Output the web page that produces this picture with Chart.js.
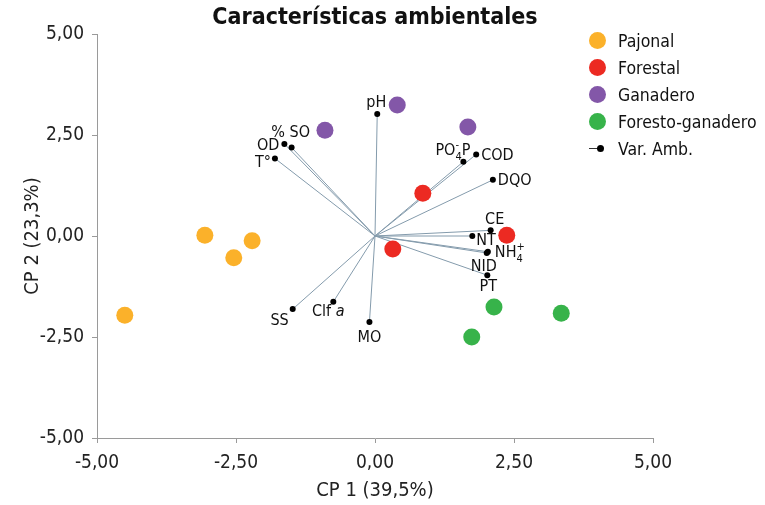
<!DOCTYPE html>
<html>
<head>
<meta charset="utf-8">
<script src="https://cdn.jsdelivr.net/npm/chart.js@4/dist/chart.umd.min.js"></script>
<style>
  body { margin: 0; background: #fff; }
  #wrap { position: relative; width: 765px; height: 505px; }
  #leyenda { position: absolute; left: 589px; top: 27px; font: 17.5px 'Liberation Sans Narrow', 'Arial Narrow', 'DejaVu Sans Condensed', sans-serif; color: #111; }
  .item { height: 27px; display: flex; align-items: center; white-space: nowrap; }
  .bola { width: 17px; height: 17px; border-radius: 50%; margin-right: 12px; }
  .varicon { width: 17px; height: 17px; margin-right: 12px; position: relative; }
  .varicon i { position: absolute; left: 0; top: 8px; width: 11px; height: 1px; background: #333; }
  .varicon b { position: absolute; left: 8px; top: 5px; width: 7px; height: 7px; border-radius: 50%; background: #000; }
</style>
</head>
<body>
<div id="wrap">
  <canvas id="myChart" width="765" height="505"></canvas>
  <div id="leyenda"></div>
</div>
<script>
// datos de los sitios (CP1, CP2)
const grupos = ['Pajonal', 'Forestal', 'Ganadero', 'Foresto-ganadero'];
const pajonalX = [-4.50, -3.06, -2.21, -2.54];
const pajonalY = [-1.96, 0.02, -0.12, -0.54];
const forestalX = [0.86, 0.32, 2.37];
const forestalY = [1.06, -0.32, 0.02];
const ganaderoX = [0.40, -0.90, 1.67];
const ganaderoY = [3.24, 2.62, 2.70];
const forestoX = [2.14, 3.35, 1.74];
const forestoY = [-1.76, -1.91, -2.50];

// variables ambientales (vectores)
const variables = ['pH', '% SO', 'OD', 'T°', 'PO4-P', 'COD', 'DQO', 'CE', 'NT', 'NH4+', 'NID', 'PT', 'SS', 'Clf a', 'MO'];
const varX = [0.04, -1.50, -1.63, -1.80, 1.59, 1.82, 2.12, 2.08, 1.75, 2.03, 2.01, 2.02, -1.48, -0.75, -0.10];
const varY = [3.02, 2.19, 2.28, 1.92, 1.84, 2.02, 1.39, 0.14, 0.00, -0.39, -0.42, -0.97, -1.81, -1.63, -2.13];

const ejeTicks = [-5, -2.5, 0, 2.5, 5];

const FUENTE = "'Liberation Sans Narrow', 'Arial Narrow', 'DejaVu Sans Condensed', sans-serif";
const colores = ['#fbb12a', '#ec2a22', '#8357a8', '#37b34a'];

// donde va cada etiqueta respecto a su punto (solo estilo)
const posEtiqueta = {
  'pH':    { dx: -1, dy: -11, al: 'center' },
  '% SO':  { dx: -1, dy: -15, al: 'center' },
  'OD':    { dx: -5, dy: 2, al: 'right' },
  'T°':    { dx: -4, dy: 4, al: 'right' },
  'PO4-P': { dx: 7, dy: -11, al: 'right' },
  'COD':   { dx: 5, dy: 1, al: 'left' },
  'DQO':   { dx: 5, dy: 1, al: 'left' },
  'CE':    { dx: 4, dy: -11, al: 'center' },
  'NT':    { dx: 4, dy: 5, al: 'left' },
  'NH4+':  { dx: 7, dy: 1, al: 'left' },
  'NID':   { dx: -3, dy: 14, al: 'center' },
  'PT':    { dx: 1, dy: 12, al: 'center' },
  'SS':    { dx: -4, dy: 12, al: 'right' },
  'Clf a': { dx: -5, dy: 10, al: 'center' },
  'MO':    { dx: 0, dy: 16, al: 'center' }
};
// subindices / superindices / cursiva
const partesEtiqueta = {
  'PO4-P': [['PO', 'n'], ['4', 'sub'], ['-', 'sup'], ['P', 'n']],
  'NH4+':  [['NH', 'n'], ['4', 'sub'], ['+', 'sup']],
  'Clf a': [['Clf ', 'n'], ['a', 'it']]
};

const fmt = v => v.toFixed(2).replace('.', ',');
const pares = (xs, ys) => xs.map((x, i) => ({ x: x, y: ys[i] }));

function fuenteDe(tipo) {
  if (tipo === 'sub' || tipo === 'sup') return '11px ' + FUENTE;
  if (tipo === 'it') return 'italic 16px ' + FUENTE;
  return '16px ' + FUENTE;
}

function pintaEtiqueta(ctx, nombre, x, y, al) {
  const partes = partesEtiqueta[nombre] || [[nombre, 'n']];
  // primero medir
  let ancho = 0, cursor = 0, inicioSub = 0;
  const pos = [];
  partes.forEach(p => {
    ctx.font = fuenteDe(p[1]);
    const w = ctx.measureText(p[0]).width;
    if (p[1] === 'sub') inicioSub = cursor;
    if (p[1] === 'sup' && pos.length && pos[pos.length - 1].tipo === 'sub') {
      pos.push({ t: p[0], tipo: 'sup', x: inicioSub });
      cursor = Math.max(cursor, inicioSub + w);
    } else {
      pos.push({ t: p[0], tipo: p[1], x: cursor });
      cursor += w;
    }
    ancho = Math.max(ancho, cursor);
  });
  let x0 = x;
  if (al === 'center') x0 = x - ancho / 2;
  if (al === 'right') x0 = x - ancho;
  ctx.textAlign = 'left';
  ctx.textBaseline = 'middle';
  pos.forEach(p => {
    ctx.font = fuenteDe(p.tipo);
    let yy = y;
    if (p.tipo === 'sub') yy = y + 6;
    if (p.tipo === 'sup') yy = y - 6;
    ctx.fillText(p.t, x0 + p.x, yy);
  });
}

const etiquetasPlugin = {
  id: 'etiquetas',
  afterDatasetsDraw(chart) {
    const ctx = chart.ctx;
    const sx = chart.scales.x, sy = chart.scales.y;
    ctx.save();
    ctx.fillStyle = '#111';
    variables.forEach((v, i) => {
      const p = posEtiqueta[v];
      pintaEtiqueta(ctx, v, sx.getPixelForValue(varX[i]) + p.dx, sy.getPixelForValue(varY[i]) + p.dy, p.al);
    });
    ctx.restore();
  }
};

const ejeComun = (titulo, tituloPad) => ({
  type: 'linear',
  min: -5,
  max: 5,
  afterBuildTicks: s => { s.ticks = ejeTicks.map(v => ({ value: v })); },
  ticks: { callback: v => fmt(v), font: { size: 19, family: FUENTE }, color: '#222' },
  grid: { drawOnChartArea: false, drawTicks: true, tickLength: 5, color: '#9a9a9a' },
  border: { color: '#9a9a9a' },
  title: { display: true, text: titulo, font: { size: 20, family: FUENTE }, color: '#222', padding: tituloPad }
});

const ejeX = ejeComun('CP 1 (39,5%)', { top: 0, bottom: 2 });
ejeX.ticks.padding = 9;
ejeX.afterFit = s => { s.height = 67; };
const ejeY = ejeComun('CP 2 (23,3%)', { top: 21, bottom: 0 });
ejeY.ticks.padding = 8;
ejeY.afterFit = s => { s.width = 97; };

const ctx = document.getElementById('myChart');

const sitios = [
  pares(pajonalX, pajonalY),
  pares(forestalX, forestalY),
  pares(ganaderoX, ganaderoY),
  pares(forestoX, forestoY)
];

// un segmento origen -> variable por cada variable
const vectores = variables.map((v, i) => ({
  label: 'vec ' + v,
  data: [{ x: 0, y: 0 }, { x: varX[i], y: varY[i] }],
  showLine: true,
  borderColor: '#849bac',
  borderWidth: 1,
  pointRadius: 0,
  order: 3
}));

new Chart(ctx, {
  type: 'scatter',
  data: {
    datasets: [
      ...grupos.map((g, i) => ({
        label: g,
        data: sitios[i],
        backgroundColor: colores[i],
        pointRadius: 8.5,
        pointBorderWidth: 0,
        order: 1
      })),
      {
        label: 'Var. Amb.',
        data: pares(varX, varY),
        backgroundColor: '#000',
        pointRadius: 3,
        pointBorderWidth: 0,
        order: 2
      },
      ...vectores
    ]
  },
  options: {
    responsive: false,
    animation: false,
    layout: { padding: { left: 0, right: 112, top: 0, bottom: 0 } },
    plugins: {
      legend: { display: false },
      tooltip: { enabled: false },
      title: {
        display: true,
        fullSize: false,
        text: 'Características ambientales',
        color: '#111',
        font: { size: 23, weight: 'bold', family: FUENTE },
        padding: { top: 4, bottom: 2.4 }
      }
    },
    scales: { x: ejeX, y: ejeY }
  },
  plugins: [etiquetasPlugin]
});

// leyenda en html
let html = '';
grupos.forEach((g, i) => {
  html += `<div class="item"><span class="bola" style="background:${colores[i]}"></span>${g}</div>`;
});
html += `<div class="item"><span class="varicon"><i></i><b></b></span>Var. Amb.</div>`;
document.getElementById('leyenda').innerHTML = html;
</script>
</body>
</html>
